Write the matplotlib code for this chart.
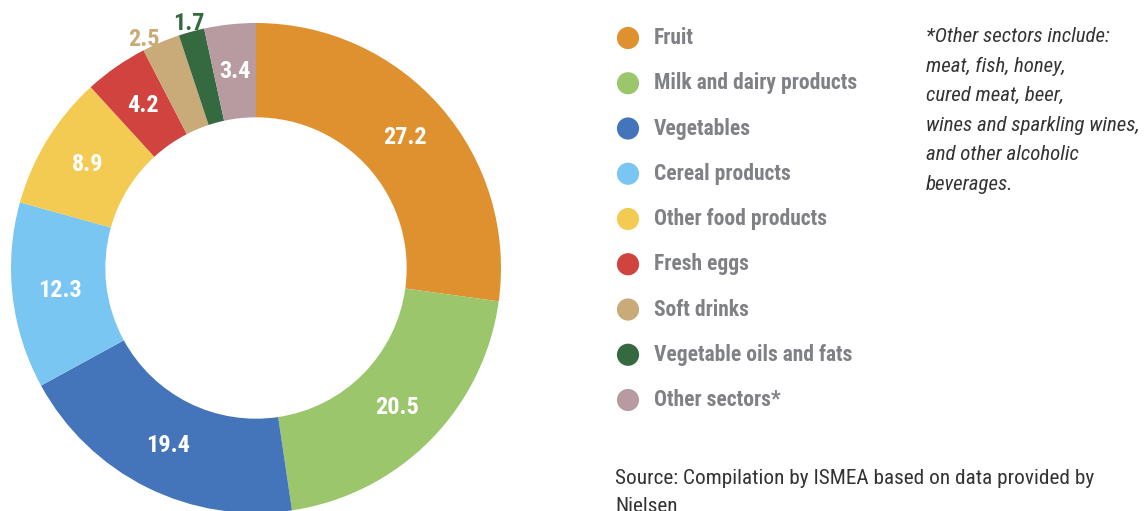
import matplotlib
matplotlib.use("Agg")
import matplotlib.pyplot as plt
from matplotlib import font_manager as fm
import numpy as np

categories = ["Fruit", "Milk and dairy products", "Vegetables", "Cereal products",
              "Other food products", "Fresh eggs", "Soft drinks",
              "Vegetable oils and fats", "Other sectors*"]
values = [27.2, 20.5, 19.4, 12.3, 8.9, 4.2, 2.5, 1.7, 3.4]
colors = ["#E0912F", "#9BC66B", "#4474BA", "#7AC6F2", "#F3CA52",
          "#D0433F", "#C8AB78", "#356A41", "#B89BA0"]
outside = [False, False, False, False, False, False, True, True, False]
note_lines = ["*Other sectors include:", "meat, fish, honey,", "cured meat, beer,",
              "wines and sparkling wines,", "and other alcoholic", "beverages."]
source_text = "Source: Compilation by ISMEA based on data provided by\nNielsen"

installed = {f.name for f in fm.fontManager.ttflist}
candidates = ["Roboto Condensed", "Archivo Narrow", "PT Sans Narrow",
              "Liberation Sans Narrow", "Pragati Narrow", "Fira Sans Condensed",
              "Barlow Condensed", "Open Sans Condensed"]
chosen = [c for c in candidates if c in installed][:1]
FONT = chosen + ["DejaVu Sans"]
plt.rcParams["font.family"] = FONT

W, H = 1145, 511
fig = plt.figure(figsize=(W / 100, H / 100), dpi=100)

# Donut
cx, cy, R = 256, 268, 245
ax = fig.add_axes([(cx - R) / W, (H - cy - R) / H, 2 * R / W, 2 * R / H])
ring = 0.385
wedges, _ = ax.pie(values, colors=colors, startangle=90, counterclock=False,
                   radius=1.0, wedgeprops=dict(width=ring, linewidth=0))
ax.set_xlim(-1, 1)
ax.set_ylim(-1, 1)
ax.set_aspect("equal")
ax.axis("off")

total = sum(values)
cum = 0
outer_idx = 0
for v, c, out in zip(values, colors, outside):
    mid = 90 - (cum + v / 2) / total * 360
    cum += v
    a = np.deg2rad(mid)
    if out:
        if outer_idx == 0:
            r, ha = 1.01, "right"
        else:
            r, ha = 1.035, "center"
        outer_idx += 1
        ax.text(r * np.cos(a), r * np.sin(a), f"{v}", color=c, fontsize=17.5,
                fontweight="bold", ha=ha, va="center", clip_on=False)
    else:
        r = 1 - ring / 2
        ax.text(r * np.cos(a), r * np.sin(a), f"{v}", color="white", fontsize=17.5,
                fontweight="bold", ha="center", va="center")

# Overlay axes in pixel coordinates
ov = fig.add_axes([0, 0, 1, 1])
ov.set_xlim(0, W)
ov.set_ylim(H, 0)
ov.axis("off")

y0, dy = 38, 45.25
ys = [y0 + i * dy for i in range(len(categories))]
ov.scatter([628] * len(categories), ys, s=255, c=colors, linewidths=0)
for y, lab in zip(ys, categories):
    ov.text(654, y, lab, fontsize=15.5, fontweight="bold", color="#808185",
            ha="left", va="center")

for i, line in enumerate(note_lines):
    ov.text(926, 37 + i * 29.4, line, fontsize=15, style="italic",
            color="#333333", ha="left", va="center")

ov.text(615, 469, source_text, fontsize=15.3, color="#333333", ha="left",
        va="top", linespacing=1.6)

fig.savefig("out.png", dpi=100)
